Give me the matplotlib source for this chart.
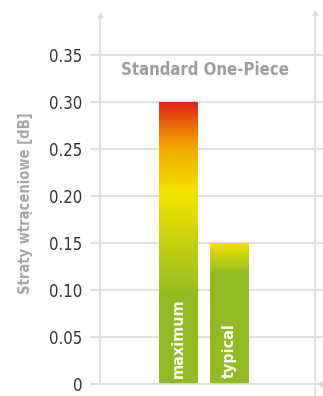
import numpy as np
import matplotlib
matplotlib.use("Agg")
import matplotlib.pyplot as plt
from matplotlib.colors import LinearSegmentedColormap
from matplotlib.lines import Line2D

plt.rcParams['font.family'] = ['DejaVu Sans']
plt.rcParams['font.stretch'] = 'condensed'

# insertion loss for the standard one-piece connector
labels = ['maximum', 'typical']
values = [0.30, 0.15]
yticks = [0, 0.05, 0.10, 0.15, 0.20, 0.25, 0.30, 0.35]

# colour stops (fraction of bar height, colour) for each bar
stops = [
    [(0.0, '#91bb23'), (0.30, '#91bb23'), (0.68, '#f4e500'),
     (0.84, '#f2a800'), (0.92, '#ea6a0c'), (1.0, '#e2231a')],
    [(0.0, '#91bb23'), (0.78, '#91bb23'), (1.0, '#f4e300')],
]

grid_c = '#dcdcdc'
W, H = 323, 396
fig = plt.figure(figsize=(W / 100, H / 100), dpi=100)
ax = fig.add_axes([100 / W, (H - 384) / H, 215 / W, 369 / H])

x = np.arange(len(values))
width = 0.77
bars = ax.bar(x, values, width, color='none', zorder=3)

grad = np.linspace(0, 1, 256).reshape(-1, 1)
for b, st, lab in zip(bars, stops, labels):
    cmap = LinearSegmentedColormap.from_list('bar', st)
    x0 = b.get_x()
    ax.imshow(grad, cmap=cmap, origin='lower', aspect='auto', zorder=3,
              extent=[x0, x0 + b.get_width(), 0, b.get_height()])
    ax.text(b.get_x() + b.get_width() / 2, 0.006, lab, rotation=90,
            ha='center', va='bottom', color='white', fontsize=11.5,
            fontweight='bold', zorder=4)

ax.set_xlim(-1.554, 2.703)
ax.set_ylim(0, 0.3926)
ax.set_yticks(yticks)
ax.set_yticklabels(['0' if v == 0 else f'{v:.2f}' for v in yticks])
ax.set_xticks([])

ax.yaxis.grid(True, color=grid_c, linewidth=1.2, zorder=0)
ax.tick_params(axis='y', which='both', direction='out', length=7.2, width=1.2,
               color=grid_c, labelsize=12, labelcolor='#333333', pad=5.5,
               right=True)

for s in ['top', 'right', 'bottom']:
    ax.spines[s].set_visible(False)
ax.spines['left'].set_color(grid_c)
ax.spines['left'].set_linewidth(1.2)

# baseline and right frame line extend past the axes
fig.add_artist(Line2D([92 / W, 322 / W], [(H - 384) / H] * 2,
                      color=grid_c, lw=1.2))
fig.add_artist(Line2D([315 / W] * 2, [0, (H - 13) / H], color=grid_c, lw=1.2))
for xa, ya in [(100, 15), (315, 13)]:
    fig.add_artist(Line2D([xa / W], [(H - ya) / H], marker='^',
                          markersize=3, color=grid_c))
fig.add_artist(Line2D([322 / W], [(H - 384) / H], marker='s',
                      markersize=3, color=grid_c))

ax.set_ylabel('Straty wtrąceniowe [dB]', fontsize=10.5, fontweight='bold',
              color='#a6a6a6')
ax.yaxis.set_label_coords(-0.31, 0.49)
ax.text(0.49, 0.85, 'Standard One-Piece', transform=ax.transAxes,
        ha='center', va='center', fontsize=12, fontweight='bold',
        color='#9d9d9d')

fig.savefig('out.png', dpi=100)
